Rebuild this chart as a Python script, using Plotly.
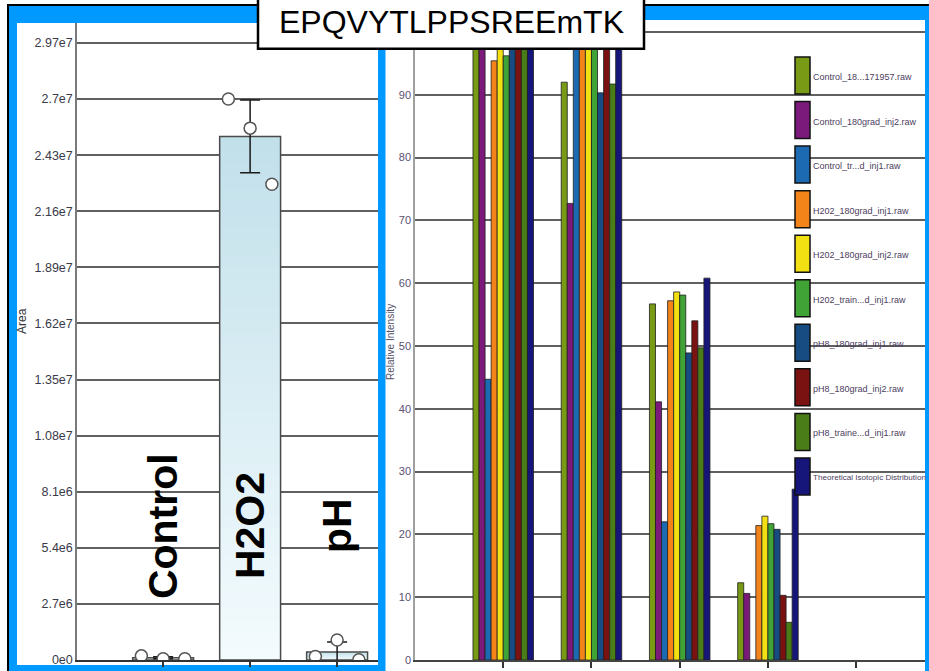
import plotly.graph_objects as go

W, H = 929, 671

# ---------------- data: left panel (peak area per condition) ----------------
AREA_CATEGORIES = ["Control", "H2O2", "pH"]
AREA_MEANS = [1.1e5, 2.52e7, 3.85e5]
AREA_ERRORS = [5e4, 1.75e6, 4.8e5]
AREA_REPLICATES = [
    [2.0e5, 6e4, 6e4],
    [2.70e7, 2.56e7, 2.29e7],
    [1.7e5, 9.6e5, 1e4],
]
AREA_TICK_VALUES = [0, 2.7e6, 5.4e6, 8.1e6, 1.08e7, 1.35e7, 1.62e7,
                    1.89e7, 2.16e7, 2.43e7, 2.7e7, 2.97e7]
AREA_TICK_LABELS = ["0e0", "2.7e6", "5.4e6", "8.1e6", "1.08e7", "1.35e7", "1.62e7",
                    "1.89e7", "2.16e7", "2.43e7", "2.7e7", "2.97e7"]

# ---------------- data: right panel (isotopic distribution) ----------------
ISOTOPE_POSITIONS = [1, 2, 3, 4]
ISOTOPE_TICKS = [1, 2, 3, 4, 5]
INTENSITY_TICK_VALUES = [0, 10, 20, 30, 40, 50, 60, 70, 80, 90, 100]
INTENSITY_TICK_LABELS = ["0", "10", "20", "30", "40", "50", "60", "70", "80", "90", ""]
SERIES_NAMES = [
    "Control_18...171957.raw",
    "Control_180grad_inj2.raw",
    "Control_tr...d_inj1.raw",
    "H202_180grad_inj1.raw",
    "H202_180grad_inj2.raw",
    "H202_train...d_inj1.raw",
    "pH8_180grad_inj1.raw",
    "pH8_180grad_inj2.raw",
    "pH8_traine...d_inj1.raw",
    "Theoretical Isotopic Distribution",
]
SERIES_COLORS = ["#789a14", "#7c1a7c", "#1c6ab2", "#f2841a", "#f2e012",
                 "#40a336", "#174c82", "#7a1212", "#4a7c18", "#16167a"]
CONTROL_18 = [100, 92.0, 56.7, 12.3]
CONTROL_INJ2 = [100, 72.7, 41.1, 10.6]
CONTROL_TR = [44.7, 100, 22.0, 0]
H2O2_INJ1 = [95.4, 100, 57.2, 21.4]
H2O2_INJ2 = [99.0, 100, 58.6, 22.9]
H2O2_TRAIN = [96.2, 100, 58.1, 21.7]
PH8_INJ1 = [100, 90.3, 48.9, 20.8]
PH8_INJ2 = [100, 98.5, 54.0, 10.3]
PH8_TRAIN = [100, 91.7, 49.7, 6.0]
THEORETICAL = [100, 99.5, 60.8, 27.2]
SERIES_VALUES = [CONTROL_18, CONTROL_INJ2, CONTROL_TR, H2O2_INJ1, H2O2_INJ2,
                 H2O2_TRAIN, PH8_INJ1, PH8_INJ2, PH8_TRAIN, THEORETICAL]

TITLE = "EPQVYTLPPSREEmTK"


def px(x):
    return x / W


def py(y):
    return 1 - y / H


ARIAL = "Liberation Sans, Arial, sans-serif"
BAR_WIDTH = 0.7
STEPS = 40

fig = go.Figure()

# vertical light-blue gradient filling each left-panel bar (drawn beneath the bar outline)
for i, v in enumerate(AREA_MEANS):
    edges = [v * k / STEPS for k in range(STEPS + 1)]
    fig.add_trace(go.Heatmap(
        x=[i - BAR_WIDTH / 2, i + BAR_WIDTH / 2], y=edges,
        z=[[k / (STEPS - 1)] for k in range(STEPS)],
        zmin=0, zmax=1, showscale=False, hoverinfo="skip",
        colorscale=[[0, "#f3fbfe"], [1, "#c2e0ea"]],
        xaxis="x", yaxis="y",
    ))

# left panel bars (outline + error bars)
fig.add_trace(go.Bar(
    x=list(range(len(AREA_CATEGORIES))), y=AREA_MEANS, width=BAR_WIDTH,
    marker=dict(color="rgba(0,0,0,0)", line=dict(color="#4a4a4a", width=1.5)),
    error_y=dict(type="data", array=AREA_ERRORS, color="#1a1a1a", thickness=1.5, width=10),
    xaxis="x", yaxis="y", showlegend=False, hoverinfo="skip",
))
offsets = [-0.25, 0, 0.25]
for i, reps in enumerate(AREA_REPLICATES):
    fig.add_trace(go.Scatter(
        x=[i + o for o in offsets], y=reps, mode="markers",
        marker=dict(symbol="circle", size=12, color="white",
                    line=dict(color="#555555", width=1.5)),
        xaxis="x", yaxis="y", showlegend=False, hoverinfo="skip", cliponaxis=True,
    ))

# right panel bars
for name, color, vals in zip(SERIES_NAMES, SERIES_COLORS, SERIES_VALUES):
    fig.add_trace(go.Bar(
        x=ISOTOPE_POSITIONS, y=vals, name=name,
        marker=dict(color=color, line=dict(color="#202020", width=0.8)),
        xaxis="x2", yaxis="y2", showlegend=False, hoverinfo="skip",
    ))

shapes = [
    # blue frame
    dict(type="rect", xref="paper", yref="paper", x0=px(8), x1=px(940), y0=py(5), y1=py(690),
         fillcolor="#0099ff", line=dict(color="#000000", width=2), layer="below"),
    # left panel interior
    dict(type="rect", xref="paper", yref="paper", x0=px(17), x1=px(378), y0=py(23), y1=py(665),
         fillcolor="white", line=dict(width=0), layer="below"),
    # right panel interior
    dict(type="rect", xref="paper", yref="paper", x0=px(385.5), x1=px(925), y0=py(20), y1=py(690),
         fillcolor="white", line=dict(width=0), layer="below"),
    # title box
    dict(type="rect", xref="paper", yref="paper", x0=px(258), x1=px(644), y0=py(-5), y1=py(48.8),
         fillcolor="white", line=dict(color="#000000", width=2.5), layer="above"),
]

annotations = [
    dict(text=TITLE, xref="paper", yref="paper", x=px(451), y=py(22), xanchor="center",
         yanchor="middle", showarrow=False, font=dict(family=ARIAL, size=32, color="#000000")),
    dict(text="Area", xref="paper", yref="paper", x=px(22), y=py(321), textangle=-90,
         xanchor="center", yanchor="middle", showarrow=False,
         font=dict(family=ARIAL, size=12, color="#333333")),
    dict(text="Relative Intensity", xref="paper", yref="paper", x=px(390), y=py(342),
         textangle=-90, xanchor="center", yanchor="middle", showarrow=False,
         font=dict(family=ARIAL, size=10, color="#555066")),
]
for i, cat in enumerate(AREA_CATEGORIES):
    annotations.append(dict(
        text=cat, xref="x", yref="paper", x=i, y=py(526), textangle=-90,
        xanchor="center", yanchor="middle", showarrow=False,
        font=dict(family=ARIAL, size=41, color="#000000", weight="bold"),
    ))

# legend drawn as swatches + labels
for i, (name, color) in enumerate(zip(SERIES_NAMES, SERIES_COLORS)):
    top = 57 + 44.55 * i
    shapes.append(dict(type="rect", xref="paper", yref="paper", x0=px(795), x1=px(810),
                       y0=py(top), y1=py(top + 37), fillcolor=color,
                       line=dict(color="#111111", width=1.5), layer="above"))
    size = 9 if len(name) < 30 else 8.1
    annotations.append(dict(text=name, xref="paper", yref="paper", x=px(811), y=py(top + 20),
                            xanchor="left", yanchor="middle", showarrow=False,
                            font=dict(family=ARIAL, size=size, color="#4d4060")))

fig.update_layout(
    width=W, height=H, autosize=False,
    margin=dict(l=0, r=0, t=0, b=0, pad=0),
    paper_bgcolor="white", plot_bgcolor="rgba(0,0,0,0)",
    barmode="group", bargap=0.314, bargroupgap=0,
    shapes=shapes, annotations=annotations,
    showlegend=False,
    xaxis=dict(domain=[px(77), px(378)], range=[-0.99, 2.47], anchor="y",
               tickvals=[0, 1, 2], showticklabels=False, ticks="outside", ticklen=5,
               tickcolor="#333333", tickwidth=1.5, showline=True, linecolor="#333333",
               linewidth=1.5, showgrid=False, zeroline=False, automargin=False),
    yaxis=dict(domain=[py(660), py(23)], range=[0, 3.066e7], anchor="x",
               tickvals=AREA_TICK_VALUES, ticktext=AREA_TICK_LABELS, ticks="",
               showgrid=True, gridcolor="#606060", gridwidth=2, showline=True,
               linecolor="#7a7a7a", linewidth=1.5, zeroline=False, automargin=False,
               tickfont=dict(family=ARIAL, size=12.5, color="#3a3a4a")),
    xaxis2=dict(domain=[px(415), px(925)], range=[0, 5.78], anchor="y2",
                tickvals=ISOTOPE_TICKS, showticklabels=False, ticks="outside", ticklen=6,
                tickcolor="#333333", tickwidth=1.5, showline=True, linecolor="#444444",
                linewidth=2, showgrid=False, zeroline=False, automargin=False),
    yaxis2=dict(domain=[py(660), py(20)], range=[0, 101.9], anchor="x2",
                tickvals=INTENSITY_TICK_VALUES, ticktext=INTENSITY_TICK_LABELS, ticks="",
                showgrid=True, gridcolor="#606060", gridwidth=2, automargin=False,
                showline=True, linecolor="#a0a0a0", linewidth=1.5, zeroline=False,
                tickfont=dict(family=ARIAL, size=11, color="#5a5070")),
)

fig.write_html(
    "out.html",
    config={"displayModeBar": False, "responsive": False},
    post_script="document.body.style.margin='0';document.body.style.overflow='hidden';",
)
